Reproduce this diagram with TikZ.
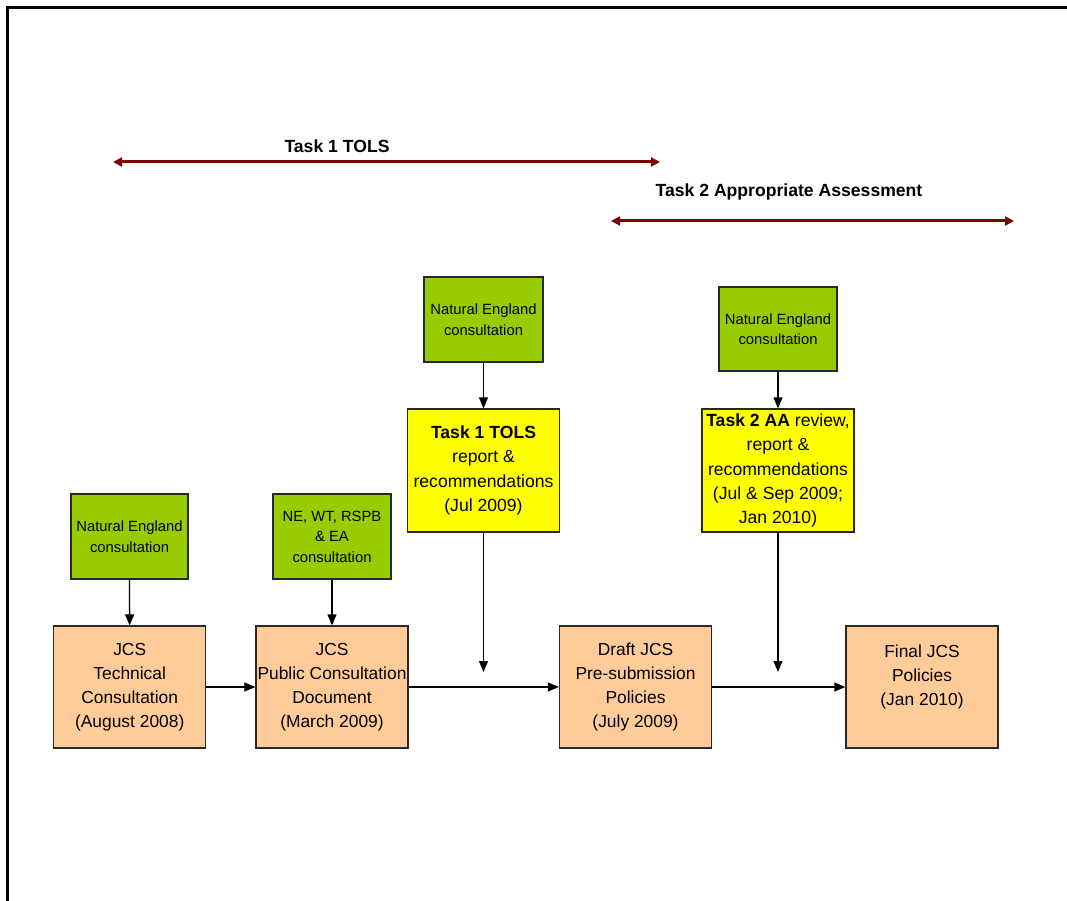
\documentclass[tikz,border=0pt]{standalone}
\usepackage{fontspec}
\setmainfont{Liberation Sans}
\usetikzlibrary{arrows.meta}
\definecolor{boxgreen}{RGB}{153,204,0}
\definecolor{boxyellow}{RGB}{255,255,0}
\definecolor{boxorange}{RGB}{255,204,153}
\definecolor{darkred}{RGB}{128,0,0}
\definecolor{edge}{RGB}{40,40,40}
\tikzset{
  basebox/.style={draw=edge, line width=1.3pt, rectangle, align=center, inner sep=0pt},
  greenbox/.style={basebox, fill=boxgreen, font=\fontsize{14.8}{20.5}\selectfont},
  yellowbox/.style={basebox, fill=boxyellow, minimum width=152pt, minimum height=123pt, font=\fontsize{17.6}{24.2}\selectfont},
  orangebox/.style={basebox, fill=boxorange, minimum width=152pt, minimum height=122pt, font=\fontsize{17.4}{24}\selectfont},
  flow/.style={line width=1.3pt, -{Triangle[length=11pt,width=9pt]}},
  span/.style={line width=3pt, darkred, {Triangle[length=9pt,width=9pt]}-{Triangle[length=9pt,width=9pt]}},
  heading/.style={font=\fontsize{17.6}{20}\selectfont\bfseries, inner sep=0pt}
}
\begin{document}
\begin{tikzpicture}[x=1pt,y=-1pt]
\useasboundingbox (0,0) rectangle (1067,901);
% frame
\draw[line width=3pt] (7.5,901) -- (7.5,7.5) -- (1067,7.5);

% task spans
\node[heading] (t1) at (337,146) {Task 1 TOLS};
\coordinate (t1l) at (113,162);
\coordinate (t1r) at (660,162);
\draw[span] (t1l) -- (t1r);
\node[heading] (t2) at (789,192) {Task 2 Appropriate Assessment};
\coordinate (t2l) at (611,221);
\coordinate (t2r) at (1014,221);
\draw[span] (t2l) -- (t2r);

% green boxes
\node[greenbox, minimum width=119pt, minimum height=85pt] (g1) at (483.5,319.5) {Natural England\\consultation};
\node[greenbox, minimum width=118pt, minimum height=84pt] (g2) at (778,329) {Natural England\\consultation};
\node[greenbox, minimum width=117pt, minimum height=85pt] (g3) at (129.5,536.5) {Natural England\\consultation};
\node[greenbox, minimum width=118pt, minimum height=85pt] (g4) at (332,536.5) {NE, WT, RSPB\\\& EA\\consultation};

% yellow boxes
\node[yellowbox] (y1) at (483.5,470.5) {\textbf{Task 1 TOLS}\\report \&\\recommendations\\(Jul 2009)};
\node[yellowbox] (y2) at (778,470.5) {\textbf{Task 2 AA} review,\\report \&\\recommendations\\(Jul \& Sep 2009;\\Jan 2010)};

% orange boxes
\node[orangebox] (a) at (129.7,687) {JCS\\Technical\\Consultation\\(August 2008)};
\node[orangebox] (b) at (332,687) {JCS\\Public Consultation\\Document\\(March 2009)};
\node[orangebox] (c) at (635.5,687) {Draft JCS\\Pre-submission\\Policies\\(July 2009)};
\node[orangebox] (d) at (922,687) {Final JCS\\Policies\\(Jan 2010)\\\mbox{}};

% connectors
\draw[flow] (g1) -- (y1);
\draw[flow] (g2) -- (y2);
\draw[flow] (g3) -- (a);
\draw[flow] (g4) -- (b);
\coordinate (y1end) at (483.5,672);
\coordinate (y2end) at (778,672);
\draw[flow] (y1.south) -- (y1end);
\draw[flow] (y2.south) -- (y2end);
\draw[flow] (a) -- (b);
\draw[flow] (b) -- (c);
\draw[flow] (c) -- (d);
\end{tikzpicture}
\end{document}
